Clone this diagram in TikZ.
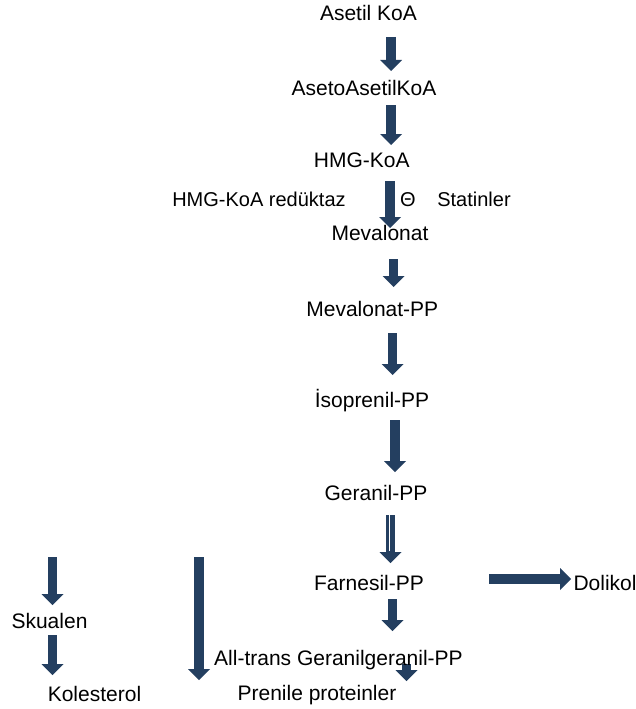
\documentclass[tikz,border=0pt]{standalone}
\usepackage{fontspec}
\setmainfont{Liberation Sans}
\usepackage{tikz}
\usetikzlibrary{arrows.meta}
\definecolor{pathblue}{HTML}{243F60}
\tikzset{
  blk/.style={draw=pathblue, line width=9.5pt, -{Triangle[length=11pt,width=22pt,line width=0pt]}},
  lbl/.style={inner sep=0pt, anchor=base, font=\fontsize{21}{25}\selectfont},
  side/.style={inner sep=0pt, anchor=base, font=\fontsize{20}{24}\selectfont}
}

\begin{document}
\begin{tikzpicture}[x=1pt,y=-1pt]
        \useasboundingbox (0,0) rectangle (636,709);
        % block arrows
        \foreach \x/\a/\b [count=\i] in {391/37/71, 391/105/145, 390/181/228, 393.5/259/287,
                392.5/333/375, 395/420/472, 390.5/515/563, 392.5/599/631, 406.5/664/681,
                52.5/557/605, 52.5/635/675, 199/557/680}
        {
                \coordinate (t\i) at (\x,\a);
                \coordinate (h\i) at (\x,\b);
                \draw[blk] (t\i) -- (h\i);
        }
        \draw[white,line width=0.8pt] (t7) ++(-1,0) -- ++(0,36);
        \coordinate (dt) at (489,579);
        \coordinate (dh) at (571,579);
        \draw[blk] (dt) -- (dh);
        % main chain
        \node[lbl] (asetil) at (368.5,21) {Asetil KoA};
        \node[lbl] (aseto) at (364,95) {AsetoAsetilKoA};
        \node[lbl] (hmg) at (361.7,167.3) {HMG-KoA};
        \node[lbl] (mev) at (380,240.7) {Mevalonat};
        \node[lbl] (mevpp) at (372.3,316) {Mevalonat-PP};
        \node[lbl] (isopp) at (372,407.7) {İsoprenil-PP};
        \node[lbl] (geranil) at (376,500) {Geranil-PP};
        \node[lbl] (farnesil) at (369,590.7) {Farnesil-PP};
        \node[lbl,anchor=base west] (dolikol) at (573.3,590.7) {Dolikol};
        \node[lbl] (allgg) at (338.5,665) {All-trans Geranilgeranil-PP};
        \node[lbl] (prenile) at (317,700) {Prenile proteinler};
        \node[lbl] (skualen) at (49.5,628) {Skualen};
        \node[lbl] (kolesterol) at (94.5,701) {Kolesterol};
        % enzyme and inhibitor
        \node[side] (reduktaz) at (259,206) {HMG-KoA redüktaz};
        \node[side] (teta) at (408,206) {Θ};
        \node[side] (statin) at (474,206) {Statinler};
\end{tikzpicture}
\end{document}
